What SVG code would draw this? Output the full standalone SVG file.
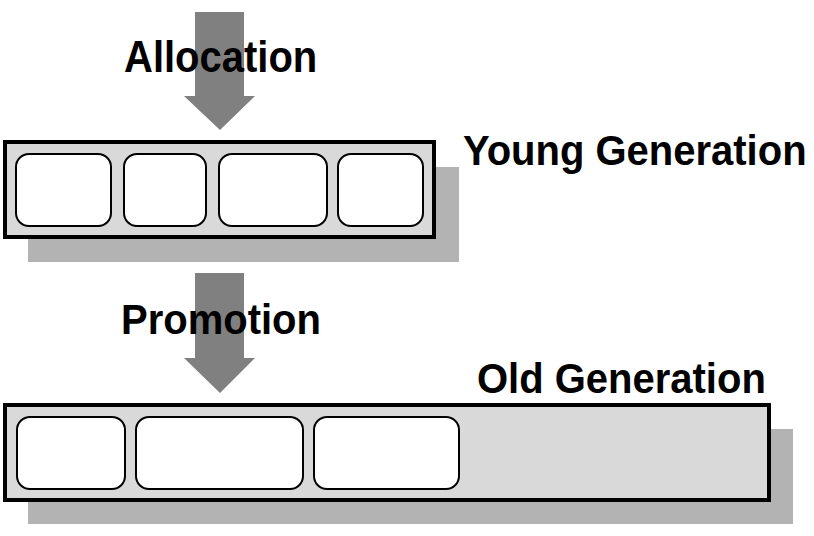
<svg xmlns="http://www.w3.org/2000/svg" width="814" height="536" viewBox="0 0 814 536">
<style>
.shadow{fill:#b3b3b3}
.box{fill:#d9d9d9;stroke:#000;stroke-width:4}
.cell{fill:#fff;stroke:#000;stroke-width:2}
.arrow{fill:#808080}
.lbl{font-family:"Liberation Sans",Arial,sans-serif;font-weight:bold;font-size:40px;fill:#000}
</style>
<rect width="814" height="536" fill="#fff"/>
<g id="young">
<rect class="shadow" x="28" y="167" width="431" height="95"/>
<rect class="box" x="5" y="142" width="429" height="95"/>
<rect class="cell" x="16" y="154" width="95" height="72" rx="13"/>
<rect class="cell" x="124" y="154" width="82" height="72" rx="13"/>
<rect class="cell" x="219" y="154" width="108" height="72" rx="13"/>
<rect class="cell" x="338" y="154" width="85" height="72" rx="13"/>
<text class="lbl" transform="translate(463,165) scale(1,1.07)">Young Generation</text>
</g>
<g id="old">
<rect class="shadow" x="28" y="429" width="765" height="95"/>
<rect class="box" x="5" y="405" width="764" height="95"/>
<rect class="cell" x="17" y="417" width="108" height="72" rx="13"/>
<rect class="cell" x="136" y="417" width="167" height="72" rx="13"/>
<rect class="cell" x="314" y="417" width="145" height="72" rx="13"/>
<text class="lbl" transform="translate(477,393) scale(1,1.07)">Old Generation</text>
</g>
<g id="connectors">
<polygon class="arrow" points="195,12 244,12 244,96 255,96 220,130 184,96 195,96"/>
<polygon class="arrow" points="195,273 244,273 244,358 255,358 220,393 184,358 195,358"/>
</g>
<g id="labels">
<text class="lbl" transform="translate(124,72) scale(1,1.1)">Allocation</text>
<text class="lbl" transform="translate(121,334) scale(1,1.07)">Promotion</text>
</g>
</svg>
